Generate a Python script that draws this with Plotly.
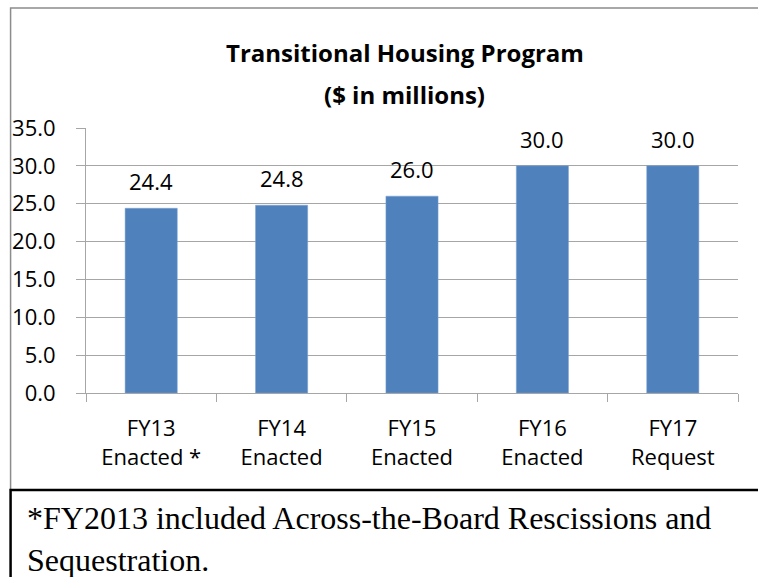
import plotly.graph_objects as go

categories = ["FY13<br>Enacted *", "FY14<br>Enacted", "FY15<br>Enacted", "FY16<br>Enacted", "FY17<br>Request"]
values = [24.4, 24.8, 26.0, 30.0, 30.0]
title_lines = ["<b>Transitional Housing Program</b>", "<b>($ in millions)</b>"]
footnote = "*FY2013 included Across-the-Board Rescissions and<br>Sequestration."

W, H = 758, 577
L, R, T, B = 81, 738, 128, 393
pw, ph = R - L, B - T

def px(x):
    return (x - L) / pw

def py(y):
    return (B - y) / ph

FONT = "'Open Sans', sans-serif"
SERIF = "'Liberation Serif', 'Times New Roman', serif"

fig = go.Figure(go.Bar(
    x=categories, y=values,
    marker=dict(color="#4F81BD", line=dict(color="#7FA3D3", width=0.5)),
    hoverinfo="x+y",
))

for c, v in zip(categories, values):
    fig.add_annotation(x=c, y=v, xref="x", yref="y", text=f"{v:.1f}",
                       showarrow=False, yanchor="middle", yshift=27,
                       font=dict(family=FONT, size=22, color="#000000"))

fig.update_layout(
    width=W, height=H,
    margin=dict(l=L, r=W - R, t=T, b=H - B, pad=0),
    paper_bgcolor="white", plot_bgcolor="white",
    bargap=0.6, showlegend=False,
    font=dict(family=FONT, size=22, color="#000000"),
)
fig.update_yaxes(
    range=[0, 35], dtick=5, tickformat=".1f",
    showgrid=True, gridcolor="#A6A6A6", gridwidth=1,
    showline=True, linecolor="#A6A6A6", linewidth=1,
    ticks="outside", ticklen=9, tickcolor="#A6A6A6",
    tickfont=dict(family=FONT, size=22, color="#000000"),
    ticklabelstandoff=16, zeroline=False, fixedrange=True,
)
fig.update_xaxes(
    showline=True, linecolor="#A6A6A6", linewidth=1,
    ticks="outside", ticklen=8, tickcolor="#A6A6A6", tickson="boundaries",
    tickfont=dict(family=FONT, size=22, color="#000000"),
    ticklabelstandoff=16, showgrid=False, fixedrange=True,
)

# outer chart border (gray) and footnote box (black)
fig.add_shape(type="rect", xref="paper", yref="paper",
              x0=px(5), x1=px(775), y0=py(490), y1=py(8),
              line=dict(color="#8C8C8C", width=1.5), layer="below")
fig.add_shape(type="rect", xref="paper", yref="paper",
              x0=px(5), x1=px(775), y0=py(595), y1=py(490),
              line=dict(color="#000000", width=2.5))

for txt, yy in zip(title_lines, [52, 94]):
    fig.add_annotation(text=txt, xref="paper", yref="paper",
                       x=px(402), y=py(yy), xanchor="center", yanchor="middle",
                       showarrow=False, font=dict(family=FONT, size=24, color="#000000"))
fig.add_annotation(text=footnote, xref="paper", yref="paper",
                   x=px(20), y=py(539), xanchor="left", yanchor="middle", align="left",
                   showarrow=False,
                   font=dict(family=SERIF, size=32, color="#000000"))

fig.write_html("out.html", config={"displayModeBar": False},
               post_script="document.body.style.margin='0';document.body.style.overflow='hidden';")
